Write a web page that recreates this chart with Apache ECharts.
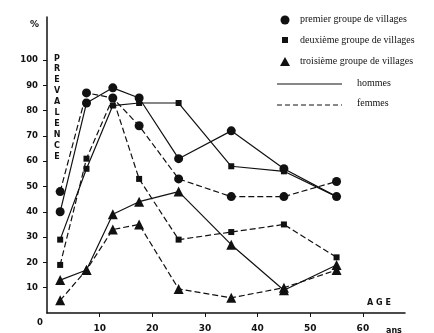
<!DOCTYPE html>
<html><head><meta charset="utf-8">
<script src="https://cdn.jsdelivr.net/npm/echarts@6/dist/echarts.min.js"></script>
<style>html,body{margin:0;padding:0;background:#fff}#c{width:434px;height:333px}</style>
</head><body><div id="c"></div>
<script>
const ages = [2.5, 7.5, 12.5, 17.5, 25, 35, 45, 55];
const g1Hommes = [40, 83, 89, 85, 61, 72, 57, 46];
const g1Femmes = [48, 87, 85, 74, 53, 46, 46, 52];
const g2Hommes = [29, 57, 82, 83, 83, 58, 56, 46];
const g2Femmes = [19, 61, 85, 53, 29, 32, 35, 22];
const g3Hommes = [13, 17, 39, 44, 48, 27, 9, 19];
const g3Femmes = [5, 17, 33, 35, 9.5, 6, 10, 17];
const yTicks = [10, 20, 30, 40, 50, 60, 70, 80, 90, 100];
const xTicks = [10, 20, 30, 40, 50, 60];
const legendGroups = ['premier groupe de villages', 'deuxième groupe de villages', 'troisième groupe de villages'];
const legendLines = ['hommes', 'femmes'];

const ink = '#111';
const dash = [6, 3];
function pts(v) { return ages.map((a, i) => [a, v[i]]); }
function mk(name, vals, symbol, size, dashed) {
  return {
    name, type: 'line', data: pts(vals), symbol, symbolSize: size,
    itemStyle: { color: ink }, lineStyle: { color: ink, width: 1.2, type: dashed ? dash : 'solid' },
    animation: false, z: 3
  };
}
const chart = echarts.init(document.getElementById('c'));
const font = '"DejaVu Sans", sans-serif';
const serif = '"Liberation Serif", serif';
const tri = 'path://M0,10 L5,0 L10,10 Z';
chart.setOption({
  animation: false,
  grid: { left: 47, right: 29, top: 17, bottom: 15 },
  xAxis: {
    type: 'value', min: 0, max: 68, interval: 10,
    axisLine: { lineStyle: { color: ink, width: 1.5 } },
    axisTick: { customValues: xTicks, length: 4, lineStyle: { color: ink } },
    axisLabel: { customValues: xTicks, color: ink, fontFamily: font, fontSize: 9, fontWeight: 'bold', margin: 11 },
    splitLine: { show: false }
  },
  yAxis: {
    type: 'value', min: 0, max: 117, interval: 10,
    axisLine: { show: true, lineStyle: { color: ink, width: 1.5 } },
    axisTick: { show: true, customValues: yTicks, length: 4, lineStyle: { color: ink } },
    axisLabel: { customValues: yTicks, color: ink, fontFamily: font, fontSize: 8.5, fontWeight: 'bold', margin: 9 },
    splitLine: { show: false }
  },
  series: [
    mk('g1 hommes', g1Hommes, 'circle', 9, false),
    mk('g1 femmes', g1Femmes, 'circle', 9, true),
    mk('g2 hommes', g2Hommes, 'rect', 6, false),
    mk('g2 femmes', g2Femmes, 'rect', 6, true),
    mk('g3 hommes', g3Hommes, tri, 10, false),
    mk('g3 femmes', g3Femmes, tri, 10, true)
  ],
  graphic: [
    { type: 'text', x: 30, y: 20, style: { text: '%', fill: ink, font: 'bold 9px ' + font } },
    { type: 'text', x: 37, y: 318, style: { text: '0', fill: ink, font: 'bold 8.5px ' + font } },
    { type: 'text', x: 57, y: 53, style: { text: 'PREVALENCE'.split('').join('\n'), fill: ink, font: 'bold 8px ' + font, align: 'center', lineHeight: 10.9 } },
    { type: 'text', x: 379, y: 299, style: { text: 'A G E', fill: ink, font: 'bold 8px ' + font, align: 'center' } },
    { type: 'text', x: 386, y: 327, style: { text: 'ans', fill: ink, font: 'bold 8px ' + font } },
    { type: 'circle', shape: { cx: 285, cy: 20, r: 4.5 }, style: { fill: ink } },
    { type: 'rect', shape: { x: 282, y: 37, width: 6, height: 6 }, style: { fill: ink } },
    { type: 'polygon', shape: { points: [[280, 66], [285, 57], [290, 66]] }, style: { fill: ink } },
    { type: 'line', shape: { x1: 277, y1: 84, x2: 342, y2: 84 }, style: { stroke: ink, lineWidth: 1 } },
    { type: 'line', shape: { x1: 277, y1: 105, x2: 342, y2: 105 }, style: { stroke: ink, lineWidth: 1, lineDash: [5, 3] } },
    { type: 'text', x: 300, y: 14, style: { text: legendGroups[0], fill: ink, font: '10px ' + serif } },
    { type: 'text', x: 300, y: 35, style: { text: legendGroups[1], fill: ink, font: '10px ' + serif } },
    { type: 'text', x: 300, y: 56, style: { text: legendGroups[2], fill: ink, font: '10px ' + serif } },
    { type: 'text', x: 357, y: 78, style: { text: legendLines[0], fill: ink, font: '10px ' + serif } },
    { type: 'text', x: 357, y: 98, style: { text: legendLines[1], fill: ink, font: '10px ' + serif } }
  ]
});
</script></body></html>
